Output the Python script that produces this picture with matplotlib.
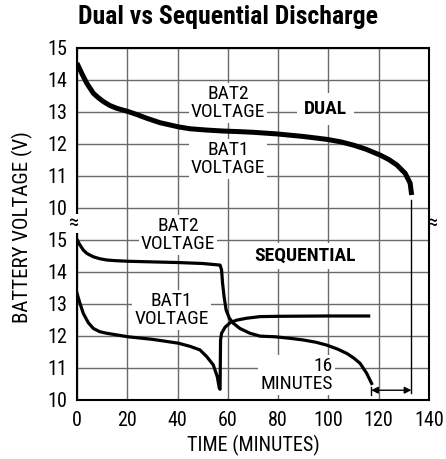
import numpy as np
import matplotlib
matplotlib.use("Agg")
import matplotlib.pyplot as plt

plt.rcParams['font.family'] = ['Roboto Condensed', 'DejaVu Sans']

# Dual discharge (top panel), minutes / volts
dual_t = [0, 1.9, 3.9, 6.5, 8.5, 10.5, 13, 15.8, 20.3, 24, 27.7, 33, 40.3, 45, 51.6,
          58, 64.8, 70.1, 79.4, 90, 99.3, 105, 109.9, 115, 120.5, 124, 127.2, 130.5,
          132.5, 133.1]
dual_v = [14.51, 14.19, 13.88, 13.57, 13.43, 13.31, 13.19, 13.1, 13.0, 12.9, 12.79,
          12.65, 12.52, 12.46, 12.42, 12.39, 12.37, 12.35, 12.3, 12.22, 12.13, 12.05,
          11.95, 11.82, 11.64, 11.5, 11.33, 11.07, 10.76, 10.39]

# Sequential discharge (bottom panel)
bat2_t = [0, 1, 2.5, 4, 6.5, 9, 11.8, 15, 20.3, 30, 40.3, 50, 56.9, 57.5, 57.9, 58.5,
          59.3, 60.6, 62.2, 64.8, 68.8, 72.8, 78.8, 85, 90, 95, 99.3, 103.5, 107.3,
          110, 112.6, 115.2, 117.2]
bat2_v = [15.0, 14.85, 14.67, 14.56, 14.46, 14.4, 14.36, 14.34, 14.32, 14.3, 14.28,
          14.25, 14.2, 14.05, 13.63, 13.21, 12.8, 12.54, 12.38, 12.22, 12.07, 11.98,
          11.96, 11.91, 11.86, 11.79, 11.7, 11.58, 11.44, 11.3, 11.13, 10.82, 10.5]

bat1_t = [0, 1, 2.5, 4.5, 6.5, 9, 11.8, 20.3, 30, 40.3, 45, 48.9, 51.6, 54.2, 55.8,
          56.6, 56.9, 57.1, 57.5, 58.9, 60.9, 63.5, 67.5, 72.8, 80, 100, 116]
bat1_v = [13.32, 13.05, 12.69, 12.4, 12.22, 12.12, 12.07, 11.96, 11.88, 11.76, 11.66,
          11.55, 11.34, 11.08, 10.71, 10.35, 10.32, 11.86, 12.07, 12.26, 12.4, 12.48,
          12.54, 12.59, 12.6, 12.61, 12.61]

x_ticks = [0, 20, 40, 60, 80, 100, 120, 140]
y_ticklabels = ['10', '11', '12', '13', '14', '15', '10', '11', '12', '13', '14', '15']

TOP = 6  # offset of the upper panel on the broken axis


def pos(v, off):
    return np.array(v) - 10 + off


fig = plt.figure(figsize=(4.46, 4.59), dpi=100)
ax = fig.add_axes([77 / 446, 1 - 399.5 / 459, 352 / 446, 352 / 459])

ax.plot(dual_t, pos(dual_v, TOP), color='black', lw=3.6, solid_capstyle='butt',
        solid_joinstyle='round', zorder=4)
ax.plot(bat2_t, pos(bat2_v, 0), color='black', lw=2.3, solid_joinstyle='round', zorder=4)
ax.plot(bat1_t, pos(bat1_v, 0), color='black', lw=2.3, solid_joinstyle='round', zorder=4)

ax.set_xlim(0, 140)
ax.set_ylim(0, 11)
ax.set_xticks(x_ticks)
ax.set_yticks(range(12))
ax.set_yticklabels(y_ticklabels)
ax.tick_params(length=0, labelsize=14.5)
ax.tick_params(axis='x', pad=8)
ax.tick_params(axis='y', pad=7)
ax.grid(True, color='#6a6a6a', lw=1.0)
ax.set_axisbelow(True)
for s in ax.spines.values():
    s.set_linewidth(1.5)

fs = 14
box = dict(facecolor='white', edgecolor='none', pad=1.5)
ax.text(60.1, 9.27, 'BAT2\nVOLTAGE', ha='center', va='center', fontsize=fs,
        linespacing=1.0, bbox=box, zorder=3)
ax.text(60.1, 7.52, 'BAT1\nVOLTAGE', ha='center', va='center', fontsize=fs,
        linespacing=1.0, bbox=box, zorder=3)
ax.text(99, 9.08, 'DUAL', ha='center', va='center', fontsize=fs, fontweight='bold',
        bbox=dict(facecolor='white', edgecolor='none', pad=5), zorder=3)
ax.text(40.2, 5.13, 'BAT2\nVOLTAGE', ha='center', va='center', fontsize=fs,
        linespacing=1.0, bbox=box, zorder=3)
ax.text(90.7, 4.48, 'SEQUENTIAL', ha='center', va='center', fontsize=fs,
        fontweight='bold', bbox=dict(facecolor='white', edgecolor='none', pad=3), zorder=3)
ax.text(37.7, 2.8, 'BAT1\nVOLTAGE', ha='center', va='center', fontsize=fs,
        linespacing=1.0, bbox=box, zorder=3)
ax.text(101.8, 0.77, '16\nMINUTES', ha='right', va='center', fontsize=fs,
        linespacing=1.0, multialignment='right', bbox=box, zorder=3)

# 16 minute dimension
ax.plot([133, 133], [0.19, 6.23], color='black', lw=1.0, zorder=4)
ax.plot([117, 117], [0.15, 0.39], color='black', lw=1.0, zorder=4)
ax.annotate('', xy=(117, 0.29), xytext=(133, 0.29),
            arrowprops=dict(arrowstyle='<|-|>', color='black', lw=1.0,
                            shrinkA=0, shrinkB=0, mutation_scale=10), zorder=4)

# axis break marks
ax.text(-1.2, 5.5, '≈', ha='center', va='center', fontsize=15, clip_on=False,
        bbox=dict(facecolor='white', edgecolor='none', pad=0), zorder=5)
ax.text(141.6, 5.5, '≈', ha='center', va='center', fontsize=15, clip_on=False, zorder=5)

ax.set_xlabel('TIME (MINUTES)', fontsize=14.5, labelpad=4)
ax.set_ylabel('BATTERY VOLTAGE (V)', fontsize=15)
ax.yaxis.set_label_coords(-44 / 352, 0.49)

fig.text(228 / 446, 1 - 17 / 459, 'Dual vs Sequential Discharge', ha='center',
         va='center', fontsize=18.5, fontweight='bold')

fig.savefig('out.png', dpi=100)
